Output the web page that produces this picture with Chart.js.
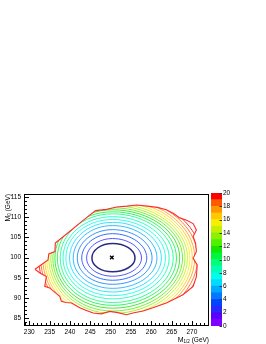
<!DOCTYPE html>
<html>
<head>
<meta charset="utf-8">
<script src="https://cdn.jsdelivr.net/npm/chart.js@4.4.0/dist/chart.umd.min.js"></script>
<style>
  html, body { margin: 0; padding: 0; background: #fff; }
  #wrap { position: relative; width: 266px; height: 344px; }
  #main { position: absolute; left: 0; top: 0; }
  #zbar { position: absolute; left: 200px; top: 185px; }
</style>
</head>
<body>
<div id="wrap">
  <canvas id="main" width="266" height="344"></canvas>
  <canvas id="zbar" width="66" height="150"></canvas>
</div>
<script>
// contour levels and where each one crosses the lines through the centre
const levels = [1, 2, 3, 4, 5, 6, 7, 8, 9, 10, 11, 12, 13, 14, 15, 16, 17, 18, 19];
const crossX = 250.5;   // vertical line used for north / south crossings
const crossY = 99.9;    // horizontal line used for east / west crossings
const eastX  = [256.0, 257.6, 258.9, 260.2, 261.4, 262.5, 263.5, 264.4, 265.4, 266.2, 267.0, 267.7, 268.3, 268.9, 269.5, 270.1, 270.7, 271.4, 272.2];
const northY = [103.5, 104.7, 105.9, 106.9, 107.9, 108.7, 109.4, 110.1, 110.8, 111.3, 111.8, 112.3, 112.8, 113.3, 113.8, 114.3, 114.8, 115.3, 115.8];
const westX  = [245.4, 244.1, 242.9, 241.8, 240.8, 239.9, 239.0, 238.3, 237.6, 236.9, 236.3, 235.8, 235.3, 234.8, 234.3, 233.8, 233.3, 232.8, 232.3];
const southY = [96.5, 95.4, 94.4, 93.4, 92.4, 91.5, 90.6, 89.8, 88.9, 88.2, 87.5, 86.8, 86.2, 85.6, 85.0, 84.4, 83.9, 83.4, 82.9];

// edge of the scanned region
const edgeX = [231.4, 234.6, 234.8, 236.3, 236.4, 240.0, 243.0, 246.3, 249.0, 251.5, 254.0, 256.5, 259.0, 261.5, 263.7, 265.5, 267.0, 268.7, 270.3, 271.1, 270.3, 270.9, 271.1, 270.3, 271.3, 271.1, 270.3, 269.0, 267.8, 266.2, 263.7, 260.4, 258.0, 255.5, 253.9, 251.8, 249.8, 247.7, 245.7, 243.9, 242.4, 240.4, 239.0, 237.9, 237.5, 235.0, 233.8, 234.2, 232.6, 231.4];
const edgeY = [97.1, 99.4, 100.9, 101.5, 103.6, 106.5, 109.0, 111.6, 111.9, 112.5, 112.7, 113.0, 112.7, 112.4, 111.8, 110.9, 109.8, 109.2, 108.4, 106.8, 105.2, 103.5, 101.5, 99.8, 98.2, 95.3, 92.9, 91.8, 90.8, 90.0, 88.8, 87.6, 86.8, 86.3, 85.9, 86.4, 86.7, 86.1, 86.3, 87.0, 87.6, 88.8, 88.9, 89.2, 90.4, 92.5, 92.9, 95.3, 96.2, 97.1];

// best fit point
const bestX = [250.3];
const bestY = [100.0];

// colour scale
const zBands = [0, 1, 2, 3, 4, 5, 6, 7, 8, 9, 10, 11, 12, 13, 14, 15, 16, 17, 18, 19, 20];

const palette = ['#8000ff', '#5a00ff', '#2828ff', '#0046ff', '#0078ff', '#00aaff', '#00dcff', '#00ffe6', '#00ffb4', '#00ff78',
                 '#00f53c', '#14e600', '#50f000', '#8cf000', '#c3f000', '#f5f000', '#ffc800', '#ff9600', '#ff5a00', '#ff0000'];
const fontFamily = "'Liberation Sans', Arial, sans-serif";
const tickFont = { family: fontFamily, size: 6.5 };

// datasets: marker first (drawn on top), then edge, then contours
const datasets = [];
datasets.push({
  data: bestX.map((x, i) => ({ x: x, y: bestY[i] })),
  pointStyle: 'crossRot', pointRadius: 2.5, borderColor: '#000', borderWidth: 1.4, showLine: false
});
datasets.push({
  data: edgeX.map((x, i) => ({ x: x, y: edgeY[i] })),
  showLine: true, tension: 0, pointRadius: 0, borderColor: '#ff2a2a', borderWidth: 1.1
});
const EDGE = 1;
levels.forEach((lv, i) => {
  const w = { x: westX[i], y: crossY }, s = { x: crossX, y: southY[i] };
  const e = { x: eastX[i], y: crossY }, n = { x: crossX, y: northY[i] };
  datasets.push({
    // loop is wrapped so every corner has both neighbours; first and last pieces are hidden
    data: [w, s, e, n, w, s, e],
    showLine: true, tension: 0.55, pointRadius: 0,
    borderColor: lv === 1 ? '#2a2a80' : palette[lv],
    borderWidth: lv === 1 ? 1.5 : 0.8,
    clipEdge: true,
    segment: {
      borderColor: ctx => (ctx.p0DataIndex === 0 || ctx.p0DataIndex === 5) ? 'rgba(0,0,0,0)' : undefined
    }
  });
});

function drawParts(ctx, parts) {
  let x = 0;
  parts.forEach(p => {
    ctx.font = p[1] + 'px ' + fontFamily;
    ctx.fillText(p[0], x, p[2]);
    x += ctx.measureText(p[0]).width;
  });
  return x;
}
function partsWidth(ctx, parts) {
  let w = 0;
  parts.forEach(p => { ctx.font = p[1] + 'px ' + fontFamily; w += ctx.measureText(p[0]).width; });
  return w;
}

const framePlugin = {
  id: 'frame',
  beforeDatasetDraw(chart, args) {
    const ctx = chart.ctx;
    ctx.save();
    if (chart.data.datasets[args.index].clipEdge) {
      const pts = chart.getDatasetMeta(EDGE).data;
      ctx.beginPath();
      pts.forEach((p, i) => i ? ctx.lineTo(p.x, p.y) : ctx.moveTo(p.x, p.y));
      ctx.closePath();
      ctx.clip();
    }
  },
  afterDatasetDraw(chart) {
    chart.ctx.restore();
  },
  afterDraw(chart) {
    const ctx = chart.ctx;
    const { left, right, top, bottom } = chart.chartArea;
    const xs = chart.scales.x, ys = chart.scales.y;
    ctx.save();
    ctx.strokeStyle = '#000';
    ctx.lineWidth = 1;
    ctx.strokeRect(left + 0.5, top + 0.5, right - left - 1, bottom - top - 1);
    ctx.beginPath();
    for (let v = Math.ceil(xs.min); v <= xs.max; v++) {
      const px = Math.round(xs.getPixelForValue(v)) + 0.5;
      const len = v % 5 === 0 ? 4 : 2;
      ctx.moveTo(px, bottom - 1);
      ctx.lineTo(px, bottom - 1 - len);
    }
    for (let v = Math.ceil(ys.min); v <= ys.max; v++) {
      const py = Math.round(ys.getPixelForValue(v)) + 0.5;
      const len = v % 5 === 0 ? 4 : 2;
      ctx.moveTo(left + 1, py);
      ctx.lineTo(left + 1 + len, py);
    }
    ctx.stroke();

    // axis titles
    ctx.fillStyle = '#000';
    ctx.textBaseline = 'alphabetic';
    ctx.textAlign = 'left';
    const xt = [['M', 7, 0], ['1/2', 4.5, 1.8], [' (GeV)', 6.5, 0]];
    ctx.save();
    ctx.translate(right - partsWidth(ctx, xt), 341.5);
    drawParts(ctx, xt);
    ctx.restore();
    const yt = [['M', 7, 0], ['0', 4.5, 1.8], [' (GeV)', 6.5, 0]];
    ctx.save();
    ctx.translate(9.5, top + partsWidth(ctx, yt));
    ctx.rotate(-Math.PI / 2);
    drawParts(ctx, yt);
    ctx.restore();
    ctx.restore();
  }
};

new Chart(document.getElementById('main'), {
  type: 'scatter',
  data: { datasets: datasets },
  options: {
    responsive: false,
    animation: false,
    events: [],
    layout: { padding: { left: 0, top: 194, right: 57, bottom: 0 } },
    plugins: { legend: { display: false }, tooltip: { enabled: false } },
    scales: {
      x: {
        type: 'linear', position: 'bottom', min: 228.7, max: 274.2,
        grid: { display: false, drawTicks: false }, border: { display: false },
        ticks: { stepSize: 5, includeBounds: false, padding: 2.5, color: '#000', font: tickFont, maxRotation: 0, autoSkip: false },
        afterFit: s => { s.height = 18; }
      },
      y: {
        type: 'linear', min: 83.1, max: 115.7,
        grid: { display: false, drawTicks: false }, border: { display: false },
        ticks: { stepSize: 5, includeBounds: false, padding: 3, color: '#000', font: tickFont, autoSkip: false },
        afterFit: s => { s.width = 24; }
      }
    }
  },
  plugins: [framePlugin]
});

const barTicks = {
  id: 'barTicks',
  afterDraw(chart) {
    const ctx = chart.ctx;
    const { right } = chart.chartArea;
    const ys = chart.scales.y;
    ctx.save();
    ctx.strokeStyle = '#333';
    ctx.lineWidth = 1;
    ctx.beginPath();
    ys.ticks.forEach(t => {
      const py = Math.round(ys.getPixelForValue(t.value)) + 0.5;
      ctx.moveTo(right, py);
      ctx.lineTo(right - 2.5, py);
    });
    ctx.stroke();
    ctx.restore();
  }
};

new Chart(document.getElementById('zbar'), {
  type: 'bar',
  data: {
    labels: [''],
    datasets: zBands.slice(0, -1).map((lo, i) => ({
      data: [[lo, zBands[i + 1]]],
      backgroundColor: palette[i],
      borderWidth: 0,
      grouped: false,
      barPercentage: 1,
      categoryPercentage: 1
    }))
  },
  options: {
    responsive: false,
    animation: false,
    events: [],
    layout: { padding: { left: 11, top: 8, right: 24, bottom: 9 } },
    plugins: { legend: { display: false }, tooltip: { enabled: false } },
    scales: {
      x: { display: false },
      y: {
        position: 'right', min: 0, max: 20,
        grid: { display: false, drawTicks: false }, border: { display: false },
        ticks: { stepSize: 2, padding: 1, color: '#000', font: tickFont },
        afterFit: s => { s.width = 20; }
      }
    }
  },
  plugins: [barTicks]
});
</script>
</body>
</html>
